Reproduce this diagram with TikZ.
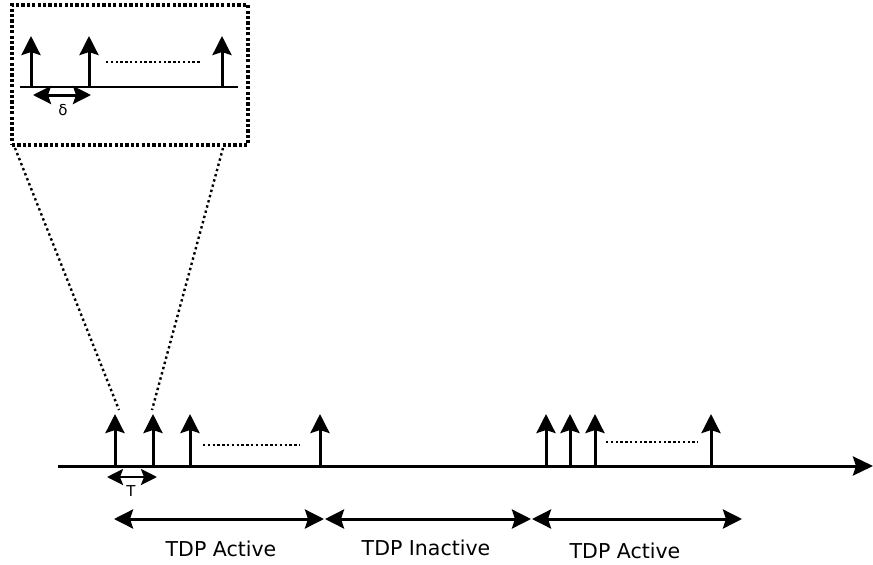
\documentclass[tikz,border=0pt]{standalone}
\usepackage{fontspec}
\setmainfont{DejaVu Sans}
\usetikzlibrary{arrows.meta}
\tikzset{
  axis/.style={line width=3pt, -{Stealth[length=20pt,width=19pt,inset=3pt]}},
  pulse/.style={line width=3pt, -{Stealth[length=19pt,width=19pt,inset=3pt]}},
  span/.style={line width=3pt, {Stealth[length=19pt,width=19pt,inset=3pt]}-{Stealth[length=19pt,width=19pt,inset=3pt]}},
  gap/.style={line width=2.6pt, dash pattern=on 2.4pt off 2.4pt},
  proj/.style={line width=2.4pt, dash pattern=on 2.4pt off 3pt},
  lbl/.style={font=\fontsize{20.5}{24}\selectfont, inner sep=0pt},
  small/.style={font=\fontsize{15}{17}\selectfont, inner sep=0pt}
}
\begin{document}
\begin{tikzpicture}[x=1pt,y=-1pt]
\useasboundingbox (0,0) rectangle (873,565);

% main time axis
\coordinate (a0) at (58,466);
\coordinate (a1) at (873,466);
\draw[axis] (a0) -- (a1);

% first burst of pulses
\foreach \n/\x in {p1/115,p2/153,p3/190,p4/320}{
  \coordinate (\n b) at (\x,465);
  \coordinate (\n t) at (\x,414);
  \draw[pulse] (\n b) -- (\n t);
}
\coordinate (d1a) at (203,445);
\coordinate (d1b) at (300,445);
\draw[gap] (d1a) -- (d1b);

% second burst of pulses
\foreach \n/\x in {q1/546,q2/570,q3/595,q4/711}{
  \coordinate (\n b) at (\x,465);
  \coordinate (\n t) at (\x,414);
  \draw[pulse] (\n b) -- (\n t);
}
\coordinate (d2a) at (606,442);
\coordinate (d2b) at (698,442);
\draw[gap] (d2a) -- (d2b);

% pulse spacing T
\coordinate (ta) at (107,477);
\coordinate (tb) at (157,477);
\draw[line width=2.6pt, {Stealth[length=16pt,width=16pt,inset=3pt]}-{Stealth[length=16pt,width=16pt,inset=3pt]}] (ta) -- (tb);
\node[small] (tlab) at (131,491) {T};

% active / inactive periods
\coordinate (s0) at (114,519);
\coordinate (s1) at (324,519);
\coordinate (s2) at (325,519);
\coordinate (s3) at (531,519);
\coordinate (s4) at (532,519);
\coordinate (s5) at (742,519);
\draw[span] (s0) -- (s1);
\draw[span] (s2) -- (s3);
\draw[span] (s4) -- (s5);
\node[lbl] (l1) at (221,549) {TDP Active};
\node[lbl] (l2) at (426,548) {TDP Inactive};
\node[lbl] (l3) at (625,551) {TDP Active};

% magnified view of the first pulses
\node[draw, line width=3.4pt, dash pattern=on 3.2pt off 2.2pt, minimum width=236pt, minimum height=140pt, inner sep=0pt] (zoom) at (130,75) {};
\coordinate (z0) at (20,87);
\coordinate (z1) at (238,87);
\draw[line width=2.4pt] (z0) -- (z1);
\foreach \n/\x in {r1/31,r2/89,r3/222}{
  \coordinate (\n b) at (\x,86);
  \coordinate (\n t) at (\x,36);
  \draw[pulse] (\n b) -- (\n t);
}
\coordinate (d3a) at (106,62);
\coordinate (d3b) at (200,62);
\draw[gap] (d3a) -- (d3b);
\coordinate (ea) at (33,95);
\coordinate (eb) at (91,95);
\draw[line width=3pt, {Stealth[length=18pt,width=18pt,inset=3pt]}-{Stealth[length=18pt,width=18pt,inset=3pt]}] (ea) -- (eb);
\node[small] (elab) at (63,110) {δ};

% projection lines from the axis up to the magnified view
\coordinate (m0) at (15,148);
\coordinate (m1) at (119,410);
\coordinate (m2) at (223,148);
\coordinate (m3) at (152,410);
\draw[proj] (m0) -- (m1);
\draw[proj] (m2) -- (m3);
\end{tikzpicture}
\end{document}
